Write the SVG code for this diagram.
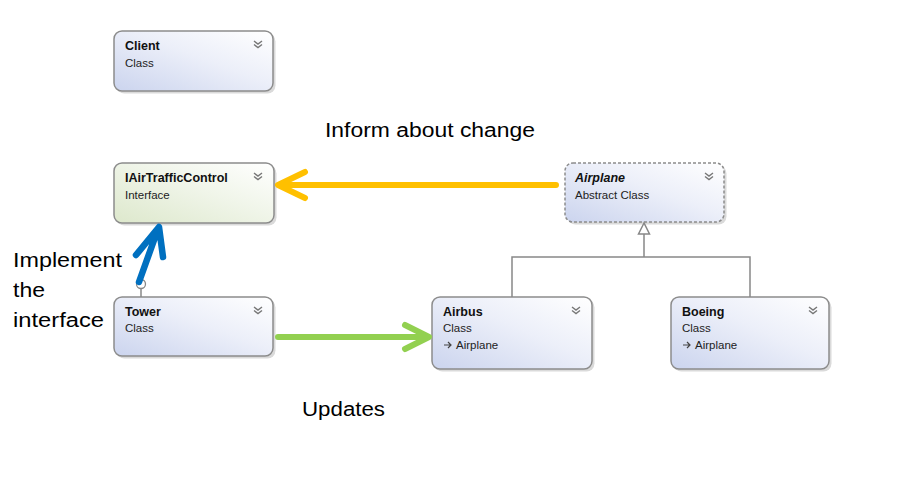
<svg xmlns="http://www.w3.org/2000/svg" width="906" height="480" viewBox="0 0 906 480">
<defs>
<linearGradient id="gc" x1="0" y1="1" x2="1" y2="0">
<stop offset="0" stop-color="#cbd4ee"/>
<stop offset="0.55" stop-color="#eceff9"/>
<stop offset="1" stop-color="#ffffff"/>
</linearGradient>
<linearGradient id="gi" x1="0" y1="1" x2="1" y2="0">
<stop offset="0" stop-color="#dde8cc"/>
<stop offset="0.55" stop-color="#f0f5e9"/>
<stop offset="1" stop-color="#ffffff"/>
</linearGradient>
<symbol id="chev" overflow="visible">
<path d="M-4,0 L0,3 L4,0 M-4,3.5 L0,6.5 L4,3.5" fill="none" stroke="#777" stroke-width="1.4"/>
</symbol>
<symbol id="inh" overflow="visible">
<path d="M0,0 H7 M4,-3 L7,0 L4,3" fill="none" stroke="#444" stroke-width="1.2"/>
</symbol>
</defs>
<style>
.shadow{fill:#dadada;}
.box{stroke:#8c8c8c;stroke-width:1.5;}
.cls{fill:url(#gc);}
.ifc{fill:url(#gi);}
.abs{fill:url(#gc);stroke-dasharray:3,2;}
.t{font-family:"Liberation Sans",Arial,sans-serif;font-size:12.5px;font-weight:bold;fill:#111;}
.ti{font-style:italic;}
.s{font-family:"Liberation Sans",Arial,sans-serif;font-size:11.5px;fill:#222;}
.lbl{font-family:"Liberation Sans",Arial,sans-serif;font-size:20px;fill:#000;}
.gen{fill:none;stroke:#888;stroke-width:1.5;}
.arr{fill:none;stroke-linecap:round;stroke-linejoin:round;}
</style>
<rect width="906" height="480" fill="#fff"/>

<g id="Client">
<rect class="shadow" x="116.5" y="33.5" width="159" height="60" rx="8"/>
<rect class="box cls" x="114" y="31" width="159" height="60" rx="8"/>
<text class="t" x="125" y="50">Client</text>
<text class="s" x="125" y="67">Class</text>
<use href="#chev" x="258" y="41"/>
</g>

<g id="IAirTrafficControl">
<rect class="shadow" x="116.5" y="165.5" width="160" height="60" rx="8"/>
<rect class="box ifc" x="114" y="163" width="160" height="60" rx="8"/>
<text class="t" x="125" y="182">IAirTrafficControl</text>
<text class="s" x="125" y="199">Interface</text>
<use href="#chev" x="258" y="173"/>
</g>

<g id="Tower">
<rect class="shadow" x="116.5" y="299.5" width="159" height="59" rx="8"/>
<rect class="box cls" x="114" y="297" width="159" height="59" rx="8"/>
<text class="t" x="125" y="316">Tower</text>
<text class="s" x="125" y="332">Class</text>
<use href="#chev" x="258" y="307"/>
</g>

<g id="Airplane">
<rect class="shadow" x="567.5" y="165.5" width="159" height="59" rx="8"/>
<rect class="box abs" x="565" y="163" width="159" height="59" rx="8"/>
<text class="t ti" x="575" y="182">Airplane</text>
<text class="s" x="575" y="199">Abstract Class</text>
<use href="#chev" x="709" y="173"/>
</g>

<g id="Airbus">
<rect class="shadow" x="434.5" y="299.5" width="160" height="72" rx="8"/>
<rect class="box cls" x="432" y="297" width="160" height="72" rx="8"/>
<text class="t" x="443" y="316">Airbus</text>
<text class="s" x="443" y="332">Class</text>
<use href="#inh" x="444" y="345"/>
<text class="s" x="456" y="349">Airplane</text>
<use href="#chev" x="576" y="307"/>
</g>

<g id="Boeing">
<rect class="shadow" x="673.5" y="299.5" width="158" height="72" rx="8"/>
<rect class="box cls" x="671" y="297" width="158" height="72" rx="8"/>
<text class="t" x="682" y="316">Boeing</text>
<text class="s" x="682" y="332">Class</text>
<use href="#inh" x="683" y="345"/>
<text class="s" x="695" y="349">Airplane</text>
<use href="#chev" x="813" y="307"/>
</g>

<g id="connectors">
<path class="gen" d="M644,234 V257 M512,297 V257 H750 V297"/>
<polygon points="644,223 638.5,234 649.5,234" fill="#fff" stroke="#888" stroke-width="1.5"/>
<path class="gen" d="M141,288 V297"/>
<circle cx="141" cy="284" r="4.5" fill="#fff" stroke="#888" stroke-width="1.3"/>
<path class="arr" d="M556,185 H280 M305,172 L278,185 L305,198" stroke="#ffc000" stroke-width="6"/>
<path class="arr" d="M278,337 H427 M405,325 L429,337 L405,349" stroke="#92d050" stroke-width="6"/>
<path class="arr" d="M139,282 L158,229 M136,255 L159,227 L163,257" stroke="#0070c0" stroke-width="6.5"/>
</g>

<text class="lbl" x="325" y="137" textLength="210" lengthAdjust="spacingAndGlyphs">Inform about change</text>
<text class="lbl" x="13" y="267" textLength="109" lengthAdjust="spacingAndGlyphs">Implement</text>
<text class="lbl" x="13" y="297" textLength="32" lengthAdjust="spacingAndGlyphs">the</text>
<text class="lbl" x="13" y="327" textLength="91" lengthAdjust="spacingAndGlyphs">interface</text>
<text class="lbl" x="302" y="416" textLength="83" lengthAdjust="spacingAndGlyphs">Updates</text>
</svg>
